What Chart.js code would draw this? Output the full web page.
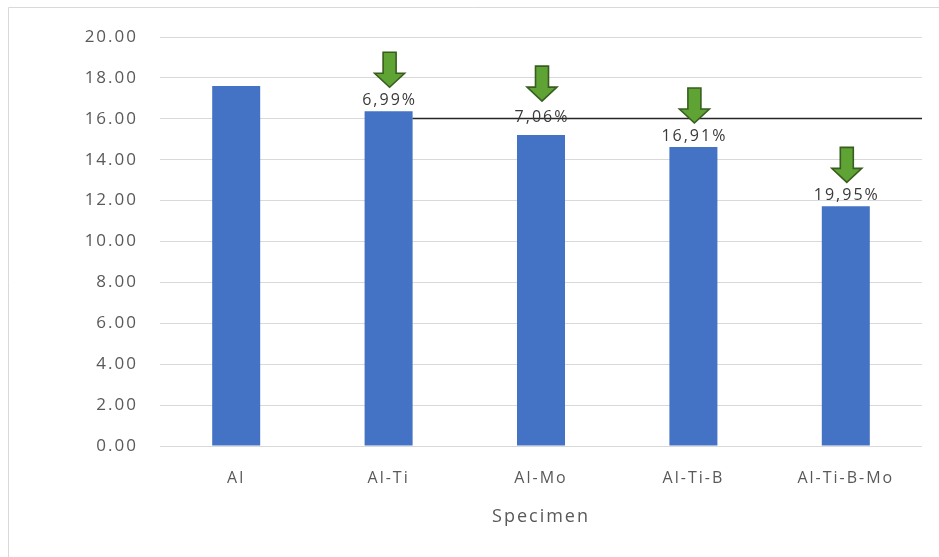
<!DOCTYPE html>
<html>
<head>
<meta charset="utf-8">
<script src="https://cdn.jsdelivr.net/npm/chart.js@4/dist/chart.umd.min.js"></script>
<style>
  html, body { margin: 0; padding: 0; background: #ffffff; }
  #wrap { width: 939px; height: 557px; position: relative; }
</style>
</head>
<body>
<div id="wrap"><canvas id="chart"></canvas></div>
<script>
// Specimens and measured values
const specimens = ['Al', 'Al-Ti', 'Al-Mo', 'Al-Ti-B', 'Al-Ti-B-Mo'];
const values = [17.60, 16.37, 15.21, 14.62, 11.72];
// Reduction labels shown above the bars
const reductionLabels = ['', '6,99%', '7,06%', '16,91%', '19,95%'];
// Reference level drawn from the Al-Ti bar to the right edge
const referenceLevel = 16.0;
const yTicks = { min: 0, max: 20, step: 2 };

const TEXT_GREY = '#595959';
const FONT = '"Open Sans", "Noto Sans", sans-serif';

// Chart frame, text spacing, reference line, arrows and labels
const decorations = {
  id: 'decorations',
  beforeLayout(chart) {
    chart.ctx.letterSpacing = '2px';
  },
  beforeDraw(chart) {
    const ctx = chart.ctx;
    ctx.letterSpacing = '2px';
    ctx.save();
    ctx.strokeStyle = '#d9d9d9';
    ctx.lineWidth = 1;
    ctx.beginPath();
    ctx.moveTo(8.5, chart.height);
    ctx.lineTo(8.5, 7.5);
    ctx.lineTo(chart.width, 7.5);
    ctx.stroke();
    ctx.restore();
  },
  afterDatasetsDraw(chart, args, opts) {
    const ctx = chart.ctx;
    const meta = chart.getDatasetMeta(0);
    const y = chart.scales.y;
    const area = chart.chartArea;

    // horizontal reference line
    const startBar = meta.data[opts.lineFrom];
    const ly = Math.round(y.getPixelForValue(referenceLevel)) - 0.5;
    ctx.save();
    ctx.strokeStyle = '#262626';
    ctx.lineWidth = 1.3;
    ctx.beginPath();
    ctx.moveTo(startBar.x + startBar.width / 2, ly);
    ctx.lineTo(area.right, ly);
    ctx.stroke();
    ctx.restore();

    meta.data.forEach((bar, i) => {
      const text = reductionLabels[i];
      if (!text) return;
      const lift = opts.lift[i] || 0;
      const labelY = bar.y - 11 - lift;
      ctx.save();
      ctx.font = '16px ' + FONT;
      ctx.fillStyle = '#3a3a3a';
      ctx.textAlign = 'center';
      ctx.textBaseline = 'middle';
      ctx.fillText(text, bar.x + 1, labelY);
      ctx.restore();

      // down arrow above the label
      const tip = labelY - 13 - lift * 0.4;
      const cx = bar.x + 1;
      const headH = 14, headW = 15, shaftW = 6.5, shaftH = 21;
      ctx.save();
      ctx.beginPath();
      ctx.moveTo(cx, tip);
      ctx.lineTo(cx - headW, tip - headH);
      ctx.lineTo(cx - shaftW, tip - headH);
      ctx.lineTo(cx - shaftW, tip - headH - shaftH);
      ctx.lineTo(cx + shaftW, tip - headH - shaftH);
      ctx.lineTo(cx + shaftW, tip - headH);
      ctx.lineTo(cx + headW, tip - headH);
      ctx.closePath();
      ctx.fillStyle = '#5fa334';
      ctx.fill();
      ctx.strokeStyle = '#375e1e';
      ctx.lineWidth = 1.6;
      ctx.lineJoin = 'miter';
      ctx.stroke();
      ctx.restore();
    });
  }
};

new Chart(document.getElementById('chart'), {
  type: 'bar',
  data: {
    labels: specimens,
    datasets: [{
      data: values,
      backgroundColor: '#4472c4',
      borderWidth: 0,
      categoryPercentage: 1.0,
      barPercentage: 0.315
    }]
  },
  options: {
    responsive: true,
    maintainAspectRatio: false,
    animation: false,
    devicePixelRatio: 1,
    layout: { padding: { left: 9, top: 37, right: 17, bottom: 0 } },
    plugins: {
      legend: { display: false },
      tooltip: { enabled: false },
      decorations: { lineFrom: 1, lift: [0, 0, 7, 0, 0] }
    },
    scales: {
      x: {
        grid: { display: false, drawTicks: false },
        border: { display: false },
        ticks: {
          color: TEXT_GREY,
          font: { family: FONT, size: 16 },
          padding: 23,
          maxRotation: 0
        },
        title: {
          display: true,
          text: 'Specimen',
          color: TEXT_GREY,
          font: { family: FONT, size: 18 },
          padding: { top: 4, bottom: 29 }
        },
        afterFit(scale) { scale.height = 111; }
      },
      y: {
        min: yTicks.min,
        max: yTicks.max,
        grid: { color: '#d9d9d9', lineWidth: 1, drawTicks: false },
        border: { display: false },
        ticks: {
          stepSize: yTicks.step,
          color: TEXT_GREY,
          font: { family: FONT, size: 17 },
          padding: 22,
          callback: v => v.toFixed(2)
        },
        afterFit(scale) { scale.width = 151; }
      }
    }
  },
  plugins: [decorations]
});
</script>
</body>
</html>
